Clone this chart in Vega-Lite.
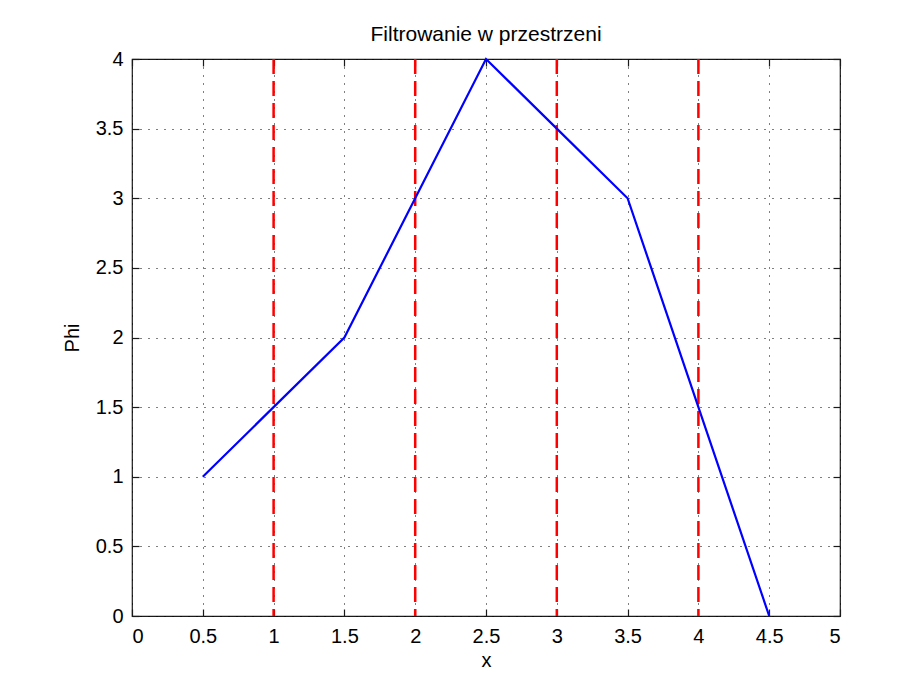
{
  "$schema": "https://vega.github.io/schema/vega-lite/v6.json",
  "width": 708,
  "height": 557,
  "autosize": "none",
  "padding": {"left": 132, "top": 59, "right": 84, "bottom": 69},
  "background": "#ffffff",
  "title": {
    "text": "Filtrowanie w przestrzeni",
    "font": "Liberation Sans",
    "fontSize": 21,
    "fontWeight": "normal",
    "color": "#000000",
    "baseline": "alphabetic",
    "offset": 17,
    "dy": 30
  },
  "datasets": {
    "phi": [
      {"x": 0.5, "phi": 1},
      {"x": 1, "phi": 1.5},
      {"x": 1.5, "phi": 2},
      {"x": 2, "phi": 3},
      {"x": 2.5, "phi": 4},
      {"x": 3, "phi": 3.5},
      {"x": 3.5, "phi": 3},
      {"x": 4, "phi": 1.5},
      {"x": 4.5, "phi": 0}
    ],
    "filters": [{"x": 1}, {"x": 2}, {"x": 3}, {"x": 4}]
  },
  "config": {
    "view": {"stroke": "#1a1a1a", "strokeWidth": 1.2},
    "axis": {
      "labelFont": "Liberation Sans",
      "labelFontSize": 20,
      "labelColor": "#000000",
      "titleFont": "Liberation Sans",
      "titleFontSize": 20,
      "titleFontWeight": "normal",
      "titleColor": "#000000",
      "domain": false,
      "tickColor": "#1a1a1a",
      "tickSize": -7,
      "tickWidth": 1.2,
      "gridColor": "#000000",
      "gridDash": [1, 7],
      "gridWidth": 1,
      "gridOpacity": 1
    }
  },
  "resolve": {"axis": {"x": "independent", "y": "independent"}},
  "layer": [
    {
      "data": {"name": "filters"},
      "mark": {"type": "rule", "color": "#ff0000", "strokeWidth": 2.5, "strokeDash": [15, 7]},
      "encoding": {
        "x": {
          "field": "x",
          "type": "quantitative",
          "scale": {"domain": [0, 5], "nice": false, "zero": false},
          "axis": {
            "orient": "top",
            "values": [0, 0.5, 1, 1.5, 2, 2.5, 3, 3.5, 4, 4.5, 5],
            "labels": false,
            "grid": false,
            "title": null
          }
        }
      }
    },
    {
      "data": {"name": "phi"},
      "mark": {"type": "line", "color": "#0000ff", "strokeWidth": 2.2},
      "encoding": {
        "x": {
          "field": "x",
          "type": "quantitative",
          "scale": {"domain": [0, 5], "nice": false, "zero": false},
          "axis": {
            "orient": "bottom",
            "values": [0, 0.5, 1, 1.5, 2, 2.5, 3, 3.5, 4, 4.5, 5],
            "labelExpr": "'' + datum.value",
            "labelPadding": 17,
            "grid": true,
            "title": "x",
            "titlePadding": 4
          }
        },
        "y": {
          "field": "phi",
          "type": "quantitative",
          "scale": {"domain": [0, 4], "nice": false, "zero": false},
          "axis": {
            "orient": "left",
            "values": [0, 0.5, 1, 1.5, 2, 2.5, 3, 3.5, 4],
            "labelExpr": "'' + datum.value",
            "labelPadding": 16,
            "grid": true,
            "title": "Phi",
            "titlePadding": 13
          }
        }
      }
    },
    {
      "data": {"name": "phi"},
      "mark": {"type": "point", "opacity": 0},
      "encoding": {
        "x": {
          "field": "x",
          "type": "quantitative",
          "scale": {"domain": [0, 5], "nice": false, "zero": false},
          "axis": null
        },
        "y": {
          "field": "phi",
          "type": "quantitative",
          "scale": {"domain": [0, 4], "nice": false, "zero": false},
          "axis": {
            "orient": "right",
            "values": [0, 0.5, 1, 1.5, 2, 2.5, 3, 3.5, 4],
            "labels": false,
            "grid": false,
            "title": null
          }
        }
      }
    }
  ]
}
